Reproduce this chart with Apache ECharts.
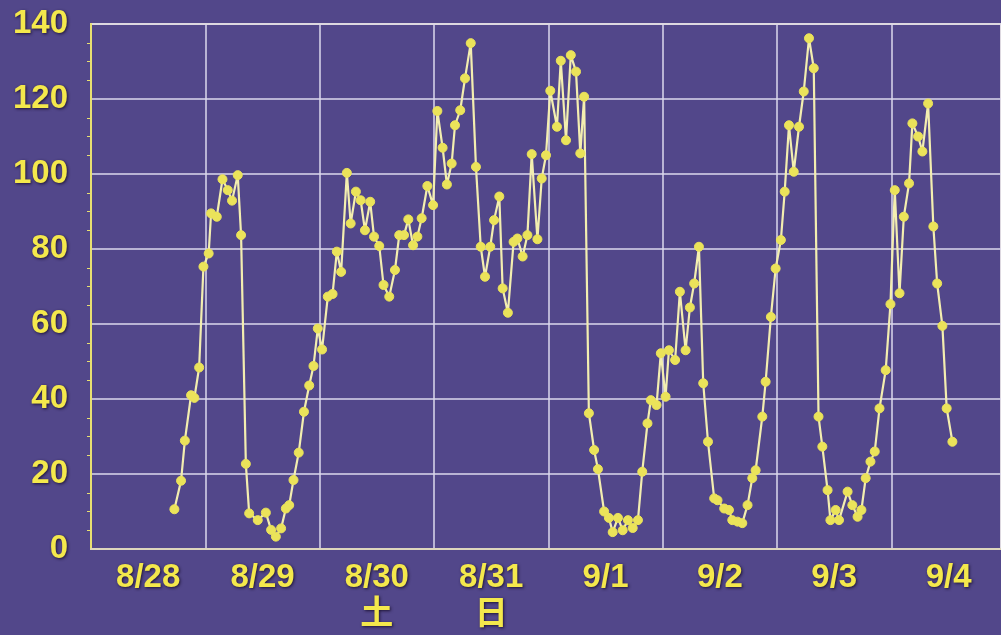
<!DOCTYPE html>
<html>
<head>
<meta charset="utf-8">
<script src="https://cdn.jsdelivr.net/npm/echarts@6/dist/echarts.min.js"></script>
<style>
html,body{margin:0;padding:0;background:#52478a;}
#c{width:1001px;height:635px;}
</style>
</head>
<body>
<div id="c"></div>
<script>
// Day labels (centred in each day)
var dayLabels = ['8/28', '8/29', '8/30\n土', '8/31\n日', '9/1', '9/2', '9/3', '9/4'];
// Y tick range
var yMin = 0, yMax = 140, yStep = 20;
// Visible time range, hours since 8/28 00:00 (last day is cut by the picture edge)
var xMin = 0, xMax = 191;
// Time of each reading, hours since 8/28 00:00
var hours = [
  17.5, 18.9, 19.7, 21.0, 21.7, 22.7, 23.6, 24.7, 25.2, 26.4,
  27.6, 28.7, 29.6, 30.8, 31.5, 32.5, 33.2, 35.0, 36.7, 37.8,
  38.8, 39.9, 40.9, 41.6, 42.5, 43.6, 44.7, 45.8, 46.7, 47.6,
  48.5, 49.7, 50.7, 51.6, 52.5, 53.7, 54.5, 55.6, 56.6, 57.5,
  58.6, 59.4, 60.5, 61.4, 62.6, 63.8, 64.7, 65.7, 66.6, 67.6,
  68.5, 69.4, 70.6, 71.8, 72.7, 73.8, 74.7, 75.7, 76.4, 77.5,
  78.5, 79.7, 80.8, 81.8, 82.7, 83.8, 84.6, 85.7, 86.4, 87.5,
  88.7, 89.5, 90.6, 91.6, 92.5, 93.7, 94.6, 95.5, 96.4, 97.8,
  98.6, 99.7, 100.7, 101.8, 102.7, 103.5, 104.5, 105.6, 106.4, 107.7,
  108.7, 109.5, 110.6, 111.6, 112.7, 113.7, 114.8, 115.7, 116.8, 117.5,
  118.7, 119.6, 120.6, 121.3, 122.6, 123.6, 124.8, 125.7, 126.6, 127.6,
  128.5, 129.5, 130.8, 131.5, 132.9, 133.9, 134.6, 135.7, 136.7, 137.8,
  138.8, 139.5, 140.9, 141.6, 142.7, 143.7, 144.8, 145.6, 146.5, 147.5,
  148.6, 149.6, 150.7, 151.7, 152.7, 153.5, 154.6, 155.2, 156.3, 157.0,
  158.8, 159.8, 160.9, 161.7, 162.6, 163.6, 164.5, 165.5, 166.8, 167.8,
  168.7, 169.7, 170.6, 171.7, 172.4, 173.6, 174.5, 175.7, 176.8, 177.6,
  178.7, 179.6, 180.8
];
// Reading values
var values = [
  10.6, 18.2, 28.9, 41.0, 40.3, 48.4, 75.3, 78.8, 89.5, 88.6,
  98.6, 95.7, 92.9, 99.7, 83.7, 22.7, 9.5, 7.7, 9.7, 5.1,
  3.3, 5.5, 10.8, 11.7, 18.4, 25.7, 36.6, 43.6, 48.8, 58.8,
  53.2, 67.3, 68.0, 79.3, 73.9, 100.3, 86.8, 95.3, 93.0, 85.0,
  92.6, 83.3, 80.8, 70.4, 67.3, 74.4, 83.7, 83.7, 87.9, 81.0,
  83.3, 88.2, 96.8, 91.7, 116.8, 107.0, 97.2, 102.8, 113.0, 117.0,
  125.5, 134.9, 101.9, 80.6, 72.6, 80.6, 87.7, 94.0, 69.5, 63.0,
  81.9, 82.8, 78.0, 83.7, 105.3, 82.6, 98.8, 105.0, 122.2, 112.6,
  130.2, 109.0, 131.7, 127.3, 105.5, 120.6, 36.2, 26.4, 21.3, 10.0,
  8.3, 4.5, 8.3, 5.0, 7.7, 5.6, 7.7, 20.6, 33.5, 39.7,
  38.4, 52.2, 40.6, 53.0, 50.4, 68.6, 53.0, 64.4, 70.8, 80.6,
  44.2, 28.6, 13.5, 13.0, 10.8, 10.4, 7.7, 7.3, 6.9, 11.7,
  18.9, 21.0, 35.3, 44.6, 61.9, 74.8, 82.4, 95.3, 113.0, 100.6,
  112.6, 122.0, 136.2, 128.2, 35.3, 27.3, 15.7, 7.7, 10.4, 7.7,
  15.3, 11.7, 8.6, 10.4, 18.9, 23.3, 26.0, 37.5, 47.7, 65.3,
  95.7, 68.2, 88.6, 97.5, 113.5, 110.0, 106.0, 118.8, 86.0, 70.8,
  59.5, 37.5, 28.6
];

var seriesData = hours.map(function (h, i) { return [h, values[i]]; });

var textYellow = '#f4e84c';
var labelFont = {
  color: textYellow,
  fontSize: 33,
  fontWeight: 'bold',
  fontFamily: '"Liberation Sans", Arial, "Noto Sans CJK JP", sans-serif',
  textShadowColor: 'rgba(25,15,45,0.9)',
  textShadowBlur: 3,
  textShadowOffsetX: 1,
  textShadowOffsetY: 1
};

var chart = echarts.init(document.getElementById('c'), null, {renderer: 'canvas'});
chart.setOption({
  backgroundColor: '#52478a',
  animation: false,
  grid: {
    left: 91, right: 0, top: 24, bottom: 86,
    show: true, backgroundColor: 'transparent',
    borderColor: '#ddd6bc', borderWidth: 2
  },
  xAxis: [{
    type: 'value',
    min: xMin, max: xMax, interval: 24,
    axisLine: {show: true, lineStyle: {color: '#ddd6bc', width: 2}},
    axisTick: {show: false},
    axisLabel: {show: false},
    splitLine: {show: true, lineStyle: {color: '#dcd8ec', width: 1.5}}
  }, {
    type: 'value',
    position: 'bottom',
    min: xMin, max: xMax, interval: 12,
    axisLine: {show: false},
    axisTick: {show: false},
    splitLine: {show: false},
    axisLabel: Object.assign({
      margin: 10, lineHeight: 37,
      showMinLabel: false, showMaxLabel: false,
      formatter: function (v) {
        if (v % 24 !== 12) return '';
        return dayLabels[(v - 12) / 24] || '';
      }
    }, labelFont)
  }],
  yAxis: {
    type: 'value',
    min: yMin, max: yMax, interval: yStep,
    axisLine: {show: true, lineStyle: {color: '#e8e070', width: 2}},
    axisTick: {show: false},
    minorTick: {show: true, splitNumber: 4, length: 4, lineStyle: {color: '#e8e070', width: 1}},
    axisLabel: Object.assign({margin: 23}, labelFont),
    splitLine: {show: true, lineStyle: {color: '#dcd8ec', width: 1.5}}
  },
  series: [{
    type: 'line',
    xAxisIndex: 0,
    data: seriesData,
    symbol: 'circle',
    symbolSize: 9,
    showAllSymbol: true,
    itemStyle: {color: '#ebe35a', borderColor: '#ebe35a'},
    lineStyle: {color: '#f3eeb0', width: 2.2}
  }]
});
</script>
</body>
</html>
